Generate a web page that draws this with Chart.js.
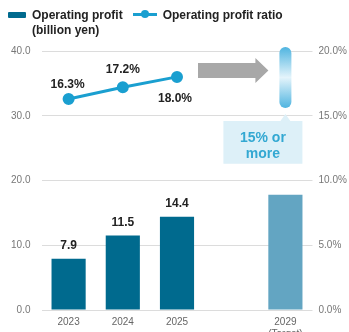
<!DOCTYPE html>
<html>
<head>
<meta charset="utf-8">
<script src="https://cdn.jsdelivr.net/npm/chart.js@4"></script>
<style>
  html, body { margin: 0; padding: 0; background: #fff; }
  #wrap { position: relative; width: 349px; height: 332px; overflow: hidden; }
  #legend {
    position: absolute; left: 8px; top: 8px;
    font: bold 12px "Liberation Sans", Arial, sans-serif; color: #222;
    display: flex; line-height: 15px;
  }
  .item { display: flex; align-items: flex-start; margin-right: 10px; }
  .sw-bar { width: 18px; height: 6px; background: #006a8e; margin: 4px 6px 0 0; border-radius: 1px; }
  .sw-line { position: relative; width: 24px; height: 3px; background: #1a9fd0; margin: 5px 6px 0 0; }
  .sw-line::after { content: ""; position: absolute; left: 8px; top: -3px; width: 8px; height: 8px; border-radius: 50%; background: #1a9fd0; }
</style>
</head>
<body>
<div id="wrap">
  <canvas id="chart" width="349" height="332"></canvas>
  <div id="legend">
    <div class="item"><div class="sw-bar"></div><div>Operating profit<br>(billion yen)</div></div>
    <div class="item"><div class="sw-line"></div><div>Operating profit ratio</div></div>
  </div>
</div>
<script>
  const years      = ['2023', '2024', '2025', '', ['2029', '(Target)']];
  const profit     = [7.9, 11.5, 14.4, null, 17.8];
  const profitText = ['7.9', '11.5', '14.4', '', ''];
  const ratio      = [16.3, 17.2, 18.0, null, null];
  const leftTicks  = [0, 10, 20, 30, 40];
  const rightTicks = [0, 5, 10, 15, 20];
  const targetLow  = 15.6;
  const targetHigh = 20;

  const barColors = ['#006a8e', '#006a8e', '#006a8e', '#006a8e', '#63a5c2'];
  const tickFont  = { family: '"Liberation Sans", Arial, sans-serif', size: 10 };

  // value labels above bars and beside line points
  const labelPlugin = {
    id: 'labels',
    afterDatasetsDraw(chart) {
      const ctx = chart.ctx;
      ctx.save();
      ctx.font = 'bold 12px "Liberation Sans", Arial, sans-serif';
      ctx.fillStyle = '#222';
      ctx.textAlign = 'center';
      const bars = chart.getDatasetMeta(1).data;
      bars.forEach((b, i) => {
        if (!profitText[i]) return;
        ctx.fillText(profitText[i], b.x, b.y - 10);
      });
      const pts = chart.getDatasetMeta(0).data;
      const offs = [[-1, -11], [0, -14], [-2, 25]];
      pts.forEach((p, i) => {
        if (ratio[i] == null) return;
        ctx.fillText(ratio[i].toFixed(1) + '%', p.x + offs[i][0], p.y + offs[i][1]);
      });
      ctx.restore();
    }
  };

  // target arrow, gradient capsule and callout box
  const targetPlugin = {
    id: 'target',
    afterDatasetsDraw(chart) {
      const ctx = chart.ctx;
      const x = chart.scales.x, yr = chart.scales.yr;
      const cx = x.getPixelForValue(4);
      ctx.save();

      // gray arrow
      const ay = yr.getPixelForValue(18.5);
      const ax0 = x.getPixelForValue(2) + 21;
      const ax1 = cx - 17;
      ctx.fillStyle = '#a8a8a8';
      ctx.beginPath();
      ctx.moveTo(ax0, ay - 7.5);
      ctx.lineTo(ax1 - 13, ay - 7.5);
      ctx.lineTo(ax1 - 13, ay - 12.5);
      ctx.lineTo(ax1, ay);
      ctx.lineTo(ax1 - 13, ay + 12.5);
      ctx.lineTo(ax1 - 13, ay + 7.5);
      ctx.lineTo(ax0, ay + 7.5);
      ctx.closePath();
      ctx.fill();

      // capsule
      const top = yr.getPixelForValue(targetHigh) - 4;
      const bot = yr.getPixelForValue(targetLow);
      const w = 12;
      const g = ctx.createLinearGradient(0, top, 0, bot);
      g.addColorStop(0, '#4fb4e0');
      g.addColorStop(0.5, '#e4f4fb');
      g.addColorStop(1, '#4fb4e0');
      ctx.fillStyle = g;
      ctx.beginPath();
      ctx.roundRect(cx - w / 2, top, w, bot - top, w / 2);
      ctx.fill();

      // callout
      const bx0 = cx - 62, bx1 = cx + 17;
      const by0 = yr.getPixelForValue(14.6), by1 = yr.getPixelForValue(11.3);
      ctx.fillStyle = '#ddf0f8';
      ctx.beginPath();
      ctx.moveTo(bx0, by0);
      ctx.lineTo(cx - 5, by0);
      ctx.lineTo(cx, by0 - 7);
      ctx.lineTo(cx + 5, by0);
      ctx.lineTo(bx1, by0);
      ctx.lineTo(bx1, by1);
      ctx.lineTo(bx0, by1);
      ctx.closePath();
      ctx.fill();
      ctx.fillStyle = '#33a8d2';
      ctx.font = 'bold 14px "Liberation Sans", Arial, sans-serif';
      ctx.textAlign = 'center';
      ctx.textBaseline = 'middle';
      const mx = (bx0 + bx1) / 2;
      ctx.fillText('15% or', mx, by0 + 17);
      ctx.fillText('more', mx, by0 + 33);
      ctx.restore();
    }
  };

  new Chart(document.getElementById('chart'), {
    data: {
      labels: years,
      datasets: [
        {
          type: 'line', data: ratio, yAxisID: 'yr',
          borderColor: '#1a9fd0', backgroundColor: '#1a9fd0',
          borderWidth: 3, pointRadius: 4.5, pointHoverRadius: 4.5, order: 0
        },
        {
          type: 'bar', data: profit, yAxisID: 'y',
          backgroundColor: barColors, barPercentage: 0.63, categoryPercentage: 1, order: 1
        }
      ]
    },
    options: {
      responsive: false, animation: false,
      layout: { padding: { top: 51, left: 0, right: 0, bottom: 0 } },
      plugins: { legend: { display: false }, tooltip: { enabled: false } },
      scales: {
        x: {
          afterFit: s => { s.height = 22; },
          grid: { display: false, drawTicks: false },
          border: { display: false },
          ticks: { color: '#666', font: tickFont, padding: 6, maxRotation: 0, autoSkip: false }
        },
        y: {
          position: 'left', min: 0, max: 40,
          afterFit: s => { s.width = 41.5; },
          afterBuildTicks: s => { s.ticks = leftTicks.map(v => ({ value: v })); },
          grid: { color: '#dcdcdc', drawTicks: false },
          border: { display: false },
          ticks: { color: '#777', font: tickFont, padding: 11, callback: v => v.toFixed(1) }
        },
        yr: {
          position: 'right', min: 0, max: 20,
          afterFit: s => { s.width = 36.5; },
          afterBuildTicks: s => { s.ticks = rightTicks.map(v => ({ value: v })); },
          grid: { display: false, drawTicks: false },
          border: { display: false },
          ticks: { color: '#777', font: tickFont, padding: 6, callback: v => v.toFixed(1) + '%' }
        }
      }
    },
    plugins: [labelPlugin, targetPlugin]
  });
</script>
</body>
</html>
